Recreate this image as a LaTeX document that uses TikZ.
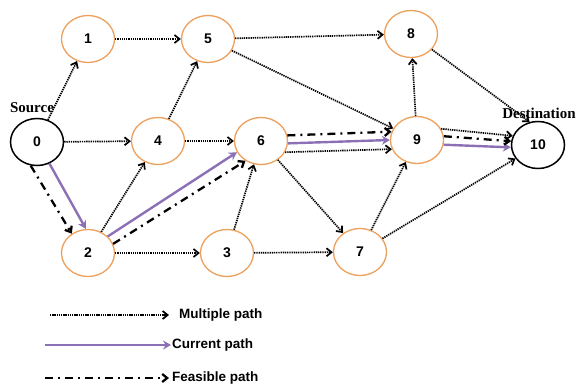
\documentclass[tikz,border=0pt]{standalone}
\usepackage{fontspec}
\setmainfont{Liberation Serif}
\setsansfont{Liberation Sans}
\usetikzlibrary{arrows.meta,shapes.geometric}

\definecolor{nodeorange}{RGB}{236,160,92}
\definecolor{pathpurple}{RGB}{140,112,182}

\begin{document}
\begin{tikzpicture}[
    x=1pt,y=-1pt,
    vertex/.style={ellipse,draw=nodeorange,line width=1.3pt,minimum width=53pt,minimum height=47pt,inner sep=0pt,font=\sffamily\bfseries\fontsize{14}{16}\selectfont},
    terminal/.style={vertex,draw=black,line width=1.5pt},
    multi/.style={line width=1.7pt,dash pattern=on 1.3pt off 0.9pt,-{Straight Barb[length=5pt,width=8pt]}},
    current/.style={pathpurple,line width=2.4pt,-{Stealth[length=8pt,width=9pt]}},
    feasible/.style={line width=2.3pt,dash pattern=on 8pt off 5pt on 2pt off 5pt,-{Straight Barb[length=5pt,width=8pt]}},
    caption/.style={font=\sffamily\bfseries\fontsize{13.5}{15}\selectfont,anchor=west,inner sep=1pt},
    tag/.style={font=\bfseries\fontsize{15}{17}\selectfont,inner sep=0pt}
]
\useasboundingbox (0,0) rectangle (580,385);

% nodes
\node[terminal] (n0) at (37,142) {0};
\node[vertex] (n1) at (88,39) {1};
\node[vertex] (n5) at (208,39) {5};
\node[vertex] (n8) at (411,34) {8};
\node[vertex] (n4) at (158,141) {4};
\node[vertex] (n6) at (261,141) {6};
\node[vertex] (n9) at (417,140) {9};
\node[terminal] (n10) at (538,145) {10};
\node[vertex] (n2) at (88,253) {2};
\node[vertex] (n3) at (227,253) {3};
\node[vertex] (n7) at (360,252) {7};

\node[tag] (src) at (32,108) {Source};
\node[tag] (dst) at (539,113) {Destination};

% multiple paths
\draw[multi] (n0) -- (n1);
\draw[multi] (n0) -- (n4);
\draw[multi] (n1) -- (n5);
\draw[multi] (n4) -- (n5);
\draw[multi] (n4) -- (n6);
\draw[multi] (n5) -- (n8);
\draw[multi] (n5) -- (n9);
\draw[multi] (n2) -- (n4);
\draw[multi] (n2) -- (n3);
\draw[multi] (n3) -- (n6);
\draw[multi] (n3) -- (n7);
\draw[multi] (n6.-25) -- (n9.-160);
\draw[multi] (n6) -- (n7);
\draw[multi] (n7) -- (n9);
\draw[multi] (n7) -- (n10);
\draw[multi] (n9) -- (n8);
\draw[multi] (n8) -- (n10.110);
\draw[multi] (n9.25) -- (n10.160);

% current path
\draw[current] (n0.-60) -- (n2.95);
\draw[current] (n2.40) -- (n6.205);
\draw[current] (n6.-5) -- (n9.180);
\draw[current] (n9.-10) -- (n10.185);

% feasible path
\draw[feasible] (n0.-105) -- (n2.130);
\draw[feasible] (n2.20) -- (n6.232);
\draw[feasible] (n6.12) -- (n9.162);
\draw[feasible] (n9.8) -- (n10.172);

% legend
\coordinate (l1) at (50,315);
\coordinate (l2) at (45,345);
\coordinate (l3) at (45,378);
\node[caption] (t1) at (178,315) {Multiple path};
\node[caption] (t2) at (171,345) {Current path};
\node[caption] (t3) at (171,378) {Feasible path};
\draw[multi,shorten >=9pt] (l1) -- (t1.west);
\draw[current] (l2) -- (t2.west);
\draw[feasible,shorten >=2pt] (l3) -- (t3.west);
\end{tikzpicture}
\end{document}
